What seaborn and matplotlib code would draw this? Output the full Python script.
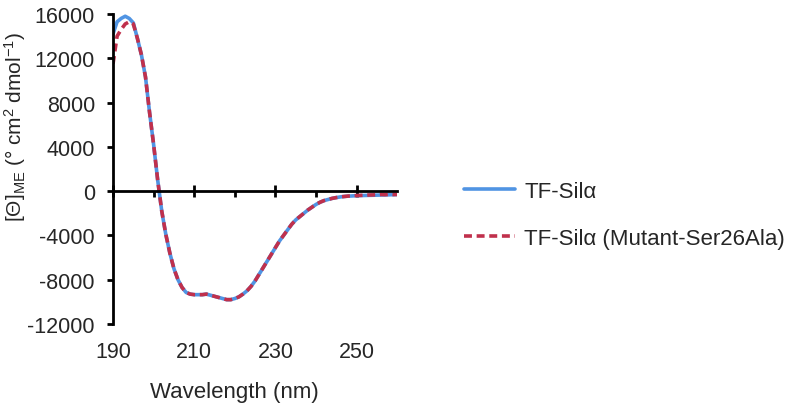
"""
CD spectrum: TF-Silα wild type vs Ser26Ala mutant
"""

import pandas as pd
import numpy as np
import matplotlib
matplotlib.use("Agg")
import matplotlib.pyplot as plt
import seaborn as sns

# wavelength grid (nm) and mean residue ellipticity
wavelength = list(range(190, 261))

wild_type = [
    14200, 15300, 15600, 15800, 15600, 15200, 13800, 12300, 10300, 7100,
    4200, 1000, -1800, -3900, -5600, -7000, -8000, -8700, -9150, -9300,
    -9350, -9350, -9350, -9300, -9400, -9500, -9600, -9700, -9800, -9800,
    -9700, -9550, -9300, -9000, -8600, -8100, -7500, -6900, -6300, -5700,
    -5100, -4500, -4000, -3500, -3000, -2600, -2300, -2000, -1700, -1450,
    -1200, -1000, -850, -750, -650, -580, -520, -480, -450, -430,
    -410, -400, -390, -380, -370, -360, -350, -340, -330, -320,
    -310,
]

mutant = [
    11500, 14000, 14600, 15100, 15300, 15100, 13800, 12300, 10300, 7100,
    4200, 1000, -1800, -3900, -5600, -7000, -8000, -8700, -9150, -9300,
    -9350, -9350, -9350, -9300, -9400, -9500, -9600, -9700, -9800, -9800,
    -9700, -9550, -9300, -9000, -8600, -8100, -7500, -6900, -6300, -5700,
    -5100, -4500, -4000, -3500, -3000, -2600, -2300, -2000, -1700, -1450,
    -1200, -1000, -850, -750, -650, -580, -520, -480, -440, -420,
    -400, -380, -370, -350, -340, -330, -300, -320, -290, -310,
    -300,
]

series_names = ["TF-Silα", "TF-Silα (Mutant-Ser26Ala)"]
x_ticks = [190, 210, 230, 250]
x_minor = [200, 220, 240]
y_ticks = list(range(-12000, 16001, 4000))

df = pd.DataFrame({
    "wavelength": wavelength * 2,
    "theta": wild_type + mutant,
    "sample": [series_names[0]] * len(wavelength) + [series_names[1]] * len(wavelength),
})

sns.set_theme(style="white")
plt.rcParams["font.family"] = ["Liberation Sans", "DejaVu Sans"]
plt.rcParams["mathtext.fontset"] = "custom"
plt.rcParams["mathtext.rm"] = "Liberation Sans"
plt.rcParams["mathtext.it"] = "Liberation Sans:italic"

fig = plt.figure(figsize=(7.96, 4.06), dpi=100)
ax = fig.add_axes([0.142, 0.1995, 0.357, 0.7635])

palette = {series_names[0]: "#5094e3", series_names[1]: "#c0304c"}
dashes = {series_names[0]: "", series_names[1]: (2.2, 1.3)}
sns.lineplot(data=df, x="wavelength", y="theta", hue="sample", style="sample",
             hue_order=series_names, style_order=series_names,
             palette=palette, dashes=dashes, linewidth=2.6, ax=ax, legend=True)

ax.set_xlim(190, 260)
ax.set_ylim(-12000, 16000)

# axes: left spine plus horizontal axis line at zero (Excel style)
for side in ["top", "right"]:
    ax.spines[side].set_visible(False)
ax.spines["bottom"].set_position(("data", 0))
for side in ["left", "bottom"]:
    ax.spines[side].set_linewidth(2)
    ax.spines[side].set_color("black")

ax.set_yticks(y_ticks)
ax.set_yticklabels([str(v) for v in y_ticks], fontsize=15.5)
ax.tick_params(axis="y", direction="out", length=4, width=2, color="black",
               left=True, pad=9)

ax.set_xticks(x_ticks)
ax.set_xticks(x_minor, minor=True)
ax.tick_params(axis="x", which="major", direction="inout", length=9, width=2,
               color="black", bottom=True, labelbottom=False)
ax.tick_params(axis="x", which="minor", direction="out", length=4, width=2,
               color="black", bottom=True)

# tick labels sit at the bottom of the plot area
sec = ax.secondary_xaxis("bottom")
sec.spines["bottom"].set_visible(False)
sec.set_xticks(x_ticks)
sec.set_xticklabels([str(v) for v in x_ticks], fontsize=15.5)
sec.tick_params(axis="x", length=0, pad=12)

ax.set_xlabel("Wavelength (nm)", fontsize=16)
ax.xaxis.set_label_coords(0.428, -0.185)
ax.set_ylabel("[Θ]$_{\\mathrm{ME}}$ (° cm$^{2}$ dmol$^{-1}$)", fontsize=15)
ax.yaxis.set_label_coords(-0.30, 0.64)

handles, labels = ax.get_legend_handles_labels()
ax.get_legend().remove()
fig.legend(handles, labels, loc="center left", bbox_to_anchor=(0.558, 0.468),
           frameon=False, fontsize=16, handlelength=2.3, labelspacing=1.15,
           handletextpad=0.4)

fig.savefig("out.png", dpi=100)
